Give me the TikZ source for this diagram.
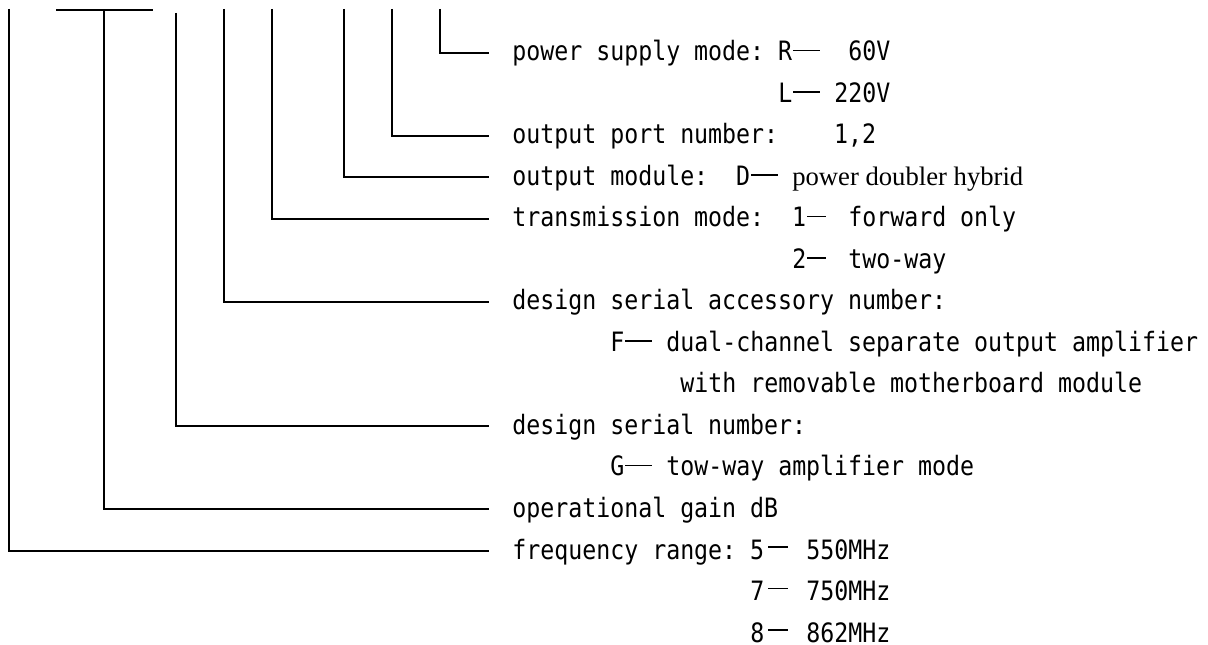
\documentclass[tikz,border=0pt]{standalone}
\usepackage{fontspec}
\newfontfamily\mono[FakeStretch=0.872]{DejaVu Sans Mono}
\newfontfamily\serif{Liberation Serif}
\newlength\cw
\newcommand\dd[1][1.9]{\makebox[2\cw][l]{\hspace*{0.08\cw}\rule[0.37em]{#1\cw}{1.1pt}}}
\newcommand\sd{\makebox[2\cw][l]{\hspace*{0.3\cw}\rule[0.42em]{1.4\cw}{1.1pt}}}
\begin{document}
\settowidth{\cw}{\mono\fontsize{20pt}{24pt}\selectfont 0}%
\begin{tikzpicture}[x=0.75pt,y=-0.75pt,
  txt/.style={font=\mono\fontsize{20pt}{24pt}\selectfont, inner sep=0pt, anchor=base west},
  conn/.style={draw=black, line width=1.5pt, line join=miter}]
\useasboundingbox (0,0) rectangle (1208,645);
% free top ends of the connectors
\coordinate (t0) at (440,9);
\coordinate (t2) at (392,9);
\coordinate (t3) at (344,9);
\coordinate (t4) at (272,9);
\coordinate (t6) at (224,9);
\coordinate (t9) at (176,13);
\coordinate (ta) at (56,10);
\coordinate (tb) at (153,10);
\coordinate (t11) at (104,10);
\coordinate (t12) at (9,9);
% labels
\node[txt] (r0) at (512,61) {\makebox[19\cw][l]{power supply mode:}R\dd\hspace*{2\cw}60V};
\node[txt] (r1) at (512,102.5) {\hspace*{19\cw}L\dd\hspace*{\cw}220V};
\node[txt] (r2) at (512,144) {\makebox[23\cw][l]{output port number:}1,2};
\node[txt] (r3) at (512,185.5) {\makebox[16\cw][l]{output module:}D\dd\hspace*{\cw}{\serif\fontsize{20pt}{24pt}\selectfont power doubler hybrid}};
\node[txt] (r4) at (512,227) {\makebox[20\cw][l]{transmission mode:}1\dd[1.36]\hspace*{\cw}forward only};
\node[txt] (r5) at (512,268.5) {\hspace*{20\cw}2\dd[1.36]\hspace*{\cw}two-way};
\node[txt] (r6) at (512,310) {design serial accessory number:};
\node[txt] (r7) at (512,351.5) {\hspace*{7\cw}F\dd\hspace*{\cw}dual-channel separate output amplifier};
\node[txt] (r8) at (512,393) {\hspace*{12\cw}with removable motherboard module};
\node[txt] (r9) at (512,434.5) {design serial number:};
\node[txt] (r10) at (512,476) {\hspace*{7\cw}G\dd\hspace*{\cw}tow-way amplifier mode};
\node[txt] (r11) at (512,517.5) {operational gain dB};
\node[txt] (r12) at (512,559) {\makebox[17\cw][l]{frequency range:}5\sd\hspace*{\cw}550MHz};
\node[txt] (r13) at (512,600.5) {\hspace*{17\cw}7\sd\hspace*{\cw}750MHz};
\node[txt] (r14) at (512,642) {\hspace*{17\cw}8\sd\hspace*{\cw}862MHz};
% connectors
\draw[conn] (t0) |- ([shift={(-23,-8)}]r0.base west);
\draw[conn] (t2) |- ([shift={(-23,-8)}]r2.base west);
\draw[conn] (t3) |- ([shift={(-23,-8)}]r3.base west);
\draw[conn] (t4) |- ([shift={(-23,-8)}]r4.base west);
\draw[conn] (t6) |- ([shift={(-23,-8)}]r6.base west);
\draw[conn] (t9) |- ([shift={(-23,-8)}]r9.base west);
\draw[conn] (ta) -- (tb);
\draw[conn] (t11) |- ([shift={(-23,-8)}]r11.base west);
\draw[conn] (t12) |- ([shift={(-23,-8)}]r12.base west);
\end{tikzpicture}
\end{document}
